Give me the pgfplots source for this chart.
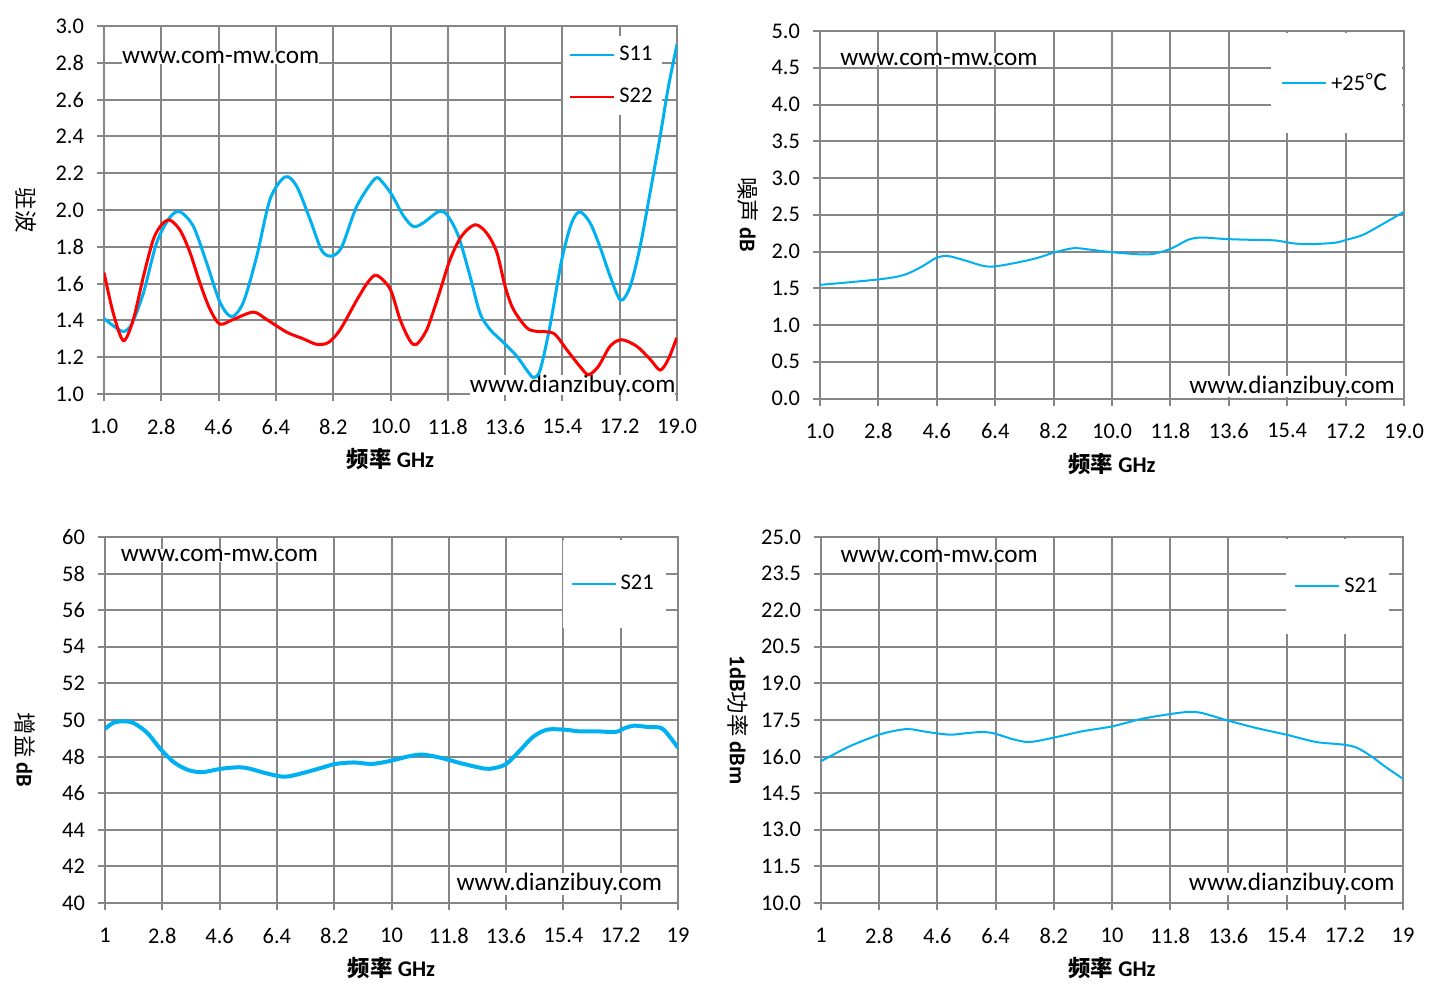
\documentclass[border=0pt]{standalone}
\usepackage{fontspec}
\setmainfont{Carlito}
\newfontfamily\cjk{Noto Sans CJK SC}
\usepackage{pgfplots}
\pgfplotsset{compat=1.18}
\definecolor{gridc}{RGB}{134,134,134}
\definecolor{cs11}{RGB}{0,176,240}
\definecolor{cs22}{RGB}{255,0,0}
\newcommand{\tf}{\fontsize{11.2}{13}\selectfont}
\tikzset{wm/.style={fill=white, inner xsep=0pt, inner ysep=0pt, font=\fontsize{12.6}{14}\selectfont}}
\pgfplotsset{
 myax/.style={
  scale only axis, anchor=south west,
  xmin=1, xmax=19,
  xtick={1,2.8,4.6,6.4,8.2,10,11.8,13.6,15.4,17.2,19},
  grid=major,
  major grid style={gridc, line width=1pt},
  axis line style={gridc, line width=1pt},
  every tick/.style={gridc, line width=1pt},
  tick align=outside, major tick length=3.5pt,
  tick pos=left,
  ticklabel style={font=\tf, text=black},
  xticklabel shift=5.5pt,
  yticklabel shift=3pt,
  legend style={draw=none, fill=white, font=\tf, inner xsep=3pt, inner ysep=3pt, row sep=8pt, legend cell align=left},
  legend image code/.code={\draw[#1, line width=1pt] (0pt,0pt) -- (22pt,0pt);},
  every axis x label/.style={at={(axis description cs:0.5,0)}, anchor=center, yshift=-32.5pt, font=\bfseries\tf},
  every axis y label/.style={anchor=center, rotate=-90, font=\bfseries\tf},
 }
}
\begin{document}
\begin{tikzpicture}
\useasboundingbox[fill=white] (0,0) rectangle (719.5pt,496.5pt);
% ---------------- top left: VSWR
\begin{axis}[myax, at={(52pt,299.5pt)}, width=286.5pt, height=184pt,
  ymin=1, ymax=3,
  ytick={1,1.2,1.4,1.6,1.8,2,2.2,2.4,2.6,2.8,3},
  yticklabels={1.0,1.2,1.4,1.6,1.8,2.0,2.2,2.4,2.6,2.8,3.0},
  xticklabels={1.0,2.8,4.6,6.4,8.2,10.0,11.8,13.6,15.4,17.2,19.0},
  xlabel={{\cjk 频率} GHz},
  ylabel={{\cjk\mdseries 驻波}},
  ylabel style={at={(axis description cs:-0.137,0.5)}},
  legend style={at={(rel axis cs:0.801,0.973)}, anchor=north west}]
\node[wm, anchor=base west] at (rel axis cs:0.031,0.897) {www.com-mw.com};
\node[wm, anchor=base east] at (rel axis cs:0.998,0.004) {www.dianzibuy.com};
\addplot[cs11, line width=1.5pt, smooth] coordinates {
(1.0,1.41) (1.3,1.37) (1.61,1.34) (1.87,1.38) (2.24,1.55) (2.65,1.82) (3.07,1.96) (3.39,1.99) (3.81,1.91) (4.23,1.71) (4.64,1.50) (5.01,1.42) (5.38,1.50) (5.80,1.75) (6.22,2.06) (6.69,2.18) (7.05,2.13) (7.47,1.95) (7.84,1.78) (8.15,1.75) (8.47,1.80) (8.94,2.02) (9.51,2.17) (9.75,2.15) (10.05,2.08) (10.40,1.97) (10.72,1.91) (11.03,1.93) (11.50,1.99) (11.77,1.975) (12.13,1.86) (12.50,1.64) (12.81,1.44) (13.13,1.35) (13.55,1.28) (13.97,1.205) (14.28,1.13) (14.49,1.09) (14.70,1.13) (15.01,1.37) (15.38,1.73) (15.69,1.93) (15.95,1.99) (16.27,1.93) (16.58,1.80) (16.90,1.64) (17.23,1.51) (17.53,1.585) (17.84,1.80) (18.15,2.09) (18.47,2.40) (18.73,2.67) (19.0,2.90)};
\addlegendentry{S11}
\addplot[cs22, line width=1.5pt, smooth] coordinates {
(1.0,1.66) (1.29,1.44) (1.61,1.29) (1.92,1.405) (2.24,1.64) (2.55,1.84) (2.81,1.92) (3.07,1.945) (3.39,1.89) (3.70,1.77) (4.02,1.60) (4.33,1.46) (4.64,1.38) (5.06,1.405) (5.69,1.445) (6.11,1.405) (6.74,1.336) (7.26,1.30) (7.68,1.27) (8.05,1.28) (8.42,1.35) (8.94,1.51) (9.30,1.61) (9.57,1.645) (9.99,1.57) (10.30,1.405) (10.61,1.29) (10.82,1.27) (11.14,1.35) (11.50,1.53) (11.87,1.73) (12.24,1.86) (12.66,1.92) (13.02,1.875) (13.34,1.77) (13.60,1.585) (13.86,1.46) (14.28,1.36) (14.60,1.34) (15.12,1.33) (15.54,1.24) (15.95,1.15) (16.22,1.105) (16.53,1.15) (16.90,1.26) (17.26,1.295) (17.73,1.26) (18.15,1.19) (18.47,1.13) (18.73,1.19) (18.99,1.305)};
\addlegendentry{S22}
\end{axis}
% ---------------- top right: noise
\begin{axis}[myax, at={(410pt,297.25pt)}, width=292pt, height=183.75pt,
  ymin=0, ymax=5,
  ytick={0,0.5,1,1.5,2,2.5,3,3.5,4,4.5,5},
  yticklabels={0.0,0.5,1.0,1.5,2.0,2.5,3.0,3.5,4.0,4.5,5.0},
  xticklabels={1.0,2.8,4.6,6.4,8.2,10.0,11.8,13.6,15.4,17.2,19.0},
  xlabel={{\cjk 频率} GHz},
  ylabel={{\cjk\mdseries 噪声} dB},
  ylabel style={at={(axis description cs:-0.1226,0.5)}},
  legend style={at={(rel axis cs:0.772,0.995)}, anchor=north west, inner xsep=5pt, inner ysep=18pt}]
\node[wm, anchor=base west] at (rel axis cs:0.034,0.907) {www.com-mw.com};
\node[wm, anchor=base east] at (rel axis cs:0.985,0.014) {www.dianzibuy.com};
\addplot[cs11, line width=1pt, smooth] coordinates {
(1.0,1.546) (2.80,1.62) (3.58,1.68) (4.14,1.795) (4.57,1.91) (4.92,1.94) (5.41,1.886) (5.98,1.81) (6.33,1.795) (6.97,1.84) (7.68,1.91) (8.24,1.99) (8.81,2.045) (9.24,2.03) (10.01,1.99) (10.93,1.96) (11.36,1.976) (11.85,2.045) (12.35,2.16) (12.77,2.19) (13.48,2.17) (14.19,2.16) (15.04,2.15) (15.60,2.11) (16.17,2.10) (16.88,2.12) (17.23,2.16) (17.73,2.225) (18.29,2.36) (19.0,2.54)};
\addlegendentry{+25{\cjk ℃}}
\end{axis}
% ---------------- bottom left: gain
\begin{axis}[myax, at={(52.5pt,45pt)}, width=286.5pt, height=183pt,
  ymin=40, ymax=60,
  ytick={40,42,44,46,48,50,52,54,56,58,60},
  yticklabels={40,42,44,46,48,50,52,54,56,58,60},
  xticklabels={1,2.8,4.6,6.4,8.2,10,11.8,13.6,15.4,17.2,19},
  xlabel={{\cjk 频率} GHz},
  ylabel={{\cjk\mdseries 增益} dB},
  ylabel style={at={(axis description cs:-0.1393,0.418)}},
  legend style={at={(rel axis cs:0.798,0.992)}, anchor=north west, inner xsep=4pt, inner ysep=15.5pt}]
\node[wm, anchor=base west] at (rel axis cs:0.027,0.933) {www.com-mw.com};
\node[wm, anchor=base east] at (rel axis cs:0.973,0.034) {www.dianzibuy.com};
\addplot[cs11, line width=2pt, smooth] coordinates {
(1,49.51) (1.25,49.84) (1.53,49.93) (1.89,49.84) (2.33,49.29) (2.76,48.38) (3.19,47.66) (3.63,47.26) (4.06,47.15) (4.63,47.33) (5.21,47.42) (5.57,47.33) (6.08,47.08) (6.65,46.90) (7.23,47.11) (7.81,47.39) (8.24,47.60) (8.82,47.68) (9.39,47.60) (9.97,47.77) (10.55,48.02) (10.98,48.11) (11.56,47.93) (12.13,47.66) (12.71,47.42) (13.07,47.33) (13.58,47.57) (14.01,48.29) (14.44,49.07) (14.88,49.47) (15.45,49.47) (15.89,49.38) (16.46,49.38) (17.04,49.35) (17.33,49.56) (17.62,49.69) (18.05,49.62) (18.48,49.56) (18.77,49.02) (19,48.48)};
\addlegendentry{S21}
\end{axis}
% ---------------- bottom right: P1dB
\begin{axis}[myax, at={(410.5pt,45pt)}, width=291pt, height=183pt,
  ymin=10, ymax=25,
  ytick={10,11.5,13,14.5,16,17.5,19,20.5,22,23.5,25},
  yticklabels={10.0,11.5,13.0,14.5,16.0,17.5,19.0,20.5,22.0,23.5,25.0},
  xticklabels={1,2.8,4.6,6.4,8.2,10,11.8,13.6,15.4,17.2,19},
  xlabel={{\cjk 频率} GHz},
  ylabel={1dB{\cjk\mdseries 功率} dBm},
  ylabel style={at={(axis description cs:-0.1419,0.5)}},
  legend style={at={(rel axis cs:0.799,0.997)}, anchor=north west, inner xsep=4pt, inner ysep=17.5pt}]
\node[wm, anchor=base west] at (rel axis cs:0.033,0.931) {www.com-mw.com};
\node[wm, anchor=base east] at (rel axis cs:0.986,0.034) {www.dianzibuy.com};
\addplot[cs11, line width=1pt, smooth] coordinates {
(1,15.81) (1.88,16.42) (2.80,16.90) (3.29,17.06) (3.72,17.13) (4.28,17.01) (4.99,16.90) (5.56,16.97) (6.05,17.01) (6.41,16.93) (6.97,16.70) (7.47,16.60) (8.24,16.79) (9.09,17.04) (10.01,17.24) (10.93,17.55) (11.78,17.74) (12.35,17.83) (12.77,17.79) (13.55,17.49) (14.47,17.17) (15.39,16.90) (16.31,16.60) (17.16,16.49) (17.58,16.36) (18.01,16.02) (18.50,15.54) (19,15.09)};
\addlegendentry{S21}
\end{axis}
\end{tikzpicture}
\end{document}
